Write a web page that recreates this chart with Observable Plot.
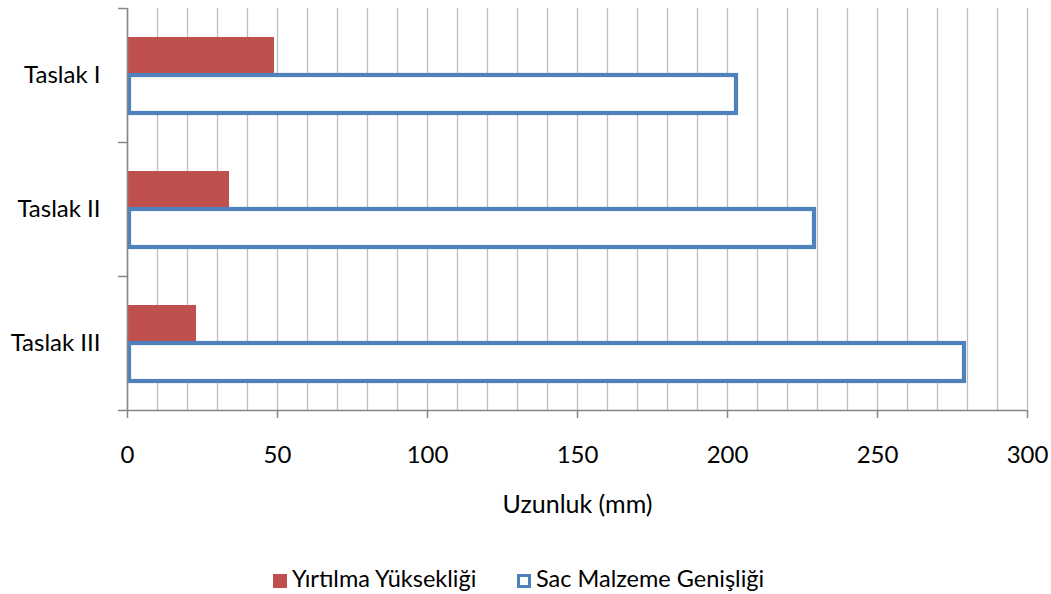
<!DOCTYPE html>
<html>
<head>
<meta charset="utf-8">
<script src="https://cdn.jsdelivr.net/npm/d3@7"></script>
<script src="https://cdn.jsdelivr.net/npm/@observablehq/plot@0.6"></script>
<style>
  html, body { margin: 0; padding: 0; background: #fff; }
  #wrap { position: relative; width: 1051px; height: 594px; font-family: Lato, "Open Sans", sans-serif; color: #000; }
  #wrap svg { position: absolute; left: 0; top: 0; }
  .leg { position: absolute; top: 563px; font-size: 23.5px; line-height: 30px; white-space: nowrap; }
  .sw { display: inline-block; width: 14px; height: 14px; box-sizing: border-box; vertical-align: -1px; margin-right: 5px; }
</style>
</head>
<body>
<div id="wrap"></div>
<script>
// ---- data ----
const categories = ["Taslak I", "Taslak II", "Taslak III"];
const seriesNames = ["Yırtılma Yüksekliği", "Sac Malzeme Genişliği"];
const yirtilmaYuksekligi = [49, 34, 23];
const sacMalzemeGenisligi = [203, 229, 279];
const xTicks = [0, 50, 100, 150, 200, 250, 300];
const gridTicks = [0,10,20,30,40,50,60,70,80,90,100,110,120,130,140,150,160,170,180,190,200,210,220,230,240,250,260,270,280,290,300];
const xLabel = "Uzunluk (mm)";

const colors = { red: "#C0504D", blue: "#4F81BD", grid: "#BEBEBE", axis: "#868686" };

const redData = categories.map((c, i) => ({cat: c, v: yirtilmaYuksekligi[i]}));
const blueData = categories.map((c, i) => ({cat: c, v: sacMalzemeGenisligi[i]}));

const W = 1051, H = 552;
const plot = Plot.plot({
  width: W,
  height: H,
  marginTop: 8,
  marginBottom: H - 410,
  marginLeft: 127,
  marginRight: 24,
  style: { fontFamily: "Lato, 'Open Sans', sans-serif", fontSize: "24px", color: "#000", background: "#fff" },
  x: { domain: [0, 300] },
  y: { type: "band", domain: categories, padding: 0 },
  marks: [
    Plot.gridX(gridTicks, { stroke: colors.grid, strokeOpacity: 1, strokeWidth: 1.3 }),
    Plot.barX(redData, { x: "v", y: "cat", fill: colors.red, insetTop: 29, insetBottom: 67 }),
    Plot.barX(blueData, { x1: 0, x2: "v", y: "cat", fill: "#fff", stroke: colors.blue, strokeWidth: 4.2, insetTop: 67, insetBottom: 29, insetLeft: 2 }),
    // vertical axis line
    Plot.ruleX([0], { stroke: colors.axis, strokeWidth: 1.5 }),
    // category boundary ticks on the y axis
    Plot.ruleY(categories, { y: d => d, dy: -67, x1: -3, x2: 0, stroke: colors.axis, strokeWidth: 1.5 }),
    // bottom axis line (incl. the lowest boundary tick)
    Plot.ruleY([categories[categories.length - 1]], { y: d => d, dy: 67, x1: -3, x2: 300, stroke: colors.axis, strokeWidth: 1.5 }),
    Plot.axisX({ ticks: xTicks, tickSize: 8, tickPadding: 27, stroke: colors.axis, strokeWidth: 1.5, strokeOpacity: 1, label: null, fontSize: 24, fill: "#000" }),
    Plot.axisY({ tickSize: 0, tickPadding: 27, label: null, fontSize: 24, fill: "#000" }),
    Plot.text([xLabel], { text: d => d, frameAnchor: "bottom", dy: 85, lineAnchor: "top", fontSize: 25, fill: "#000" })
  ]
});

const wrap = document.getElementById("wrap");
wrap.appendChild(plot);

// legend (below the svg)
const legendItems = [
  { name: seriesNames[0], left: 273, sw: `background:${colors.red};` },
  { name: seriesNames[1], left: 517, sw: `background:#fff;border:3px solid ${colors.blue};` }
];
for (const it of legendItems) {
  const d = document.createElement("div");
  d.className = "leg";
  d.style.left = it.left + "px";
  d.innerHTML = `<span class="sw" style="${it.sw}"></span>${it.name}`;
  wrap.appendChild(d);
}
</script>
</body>
</html>
